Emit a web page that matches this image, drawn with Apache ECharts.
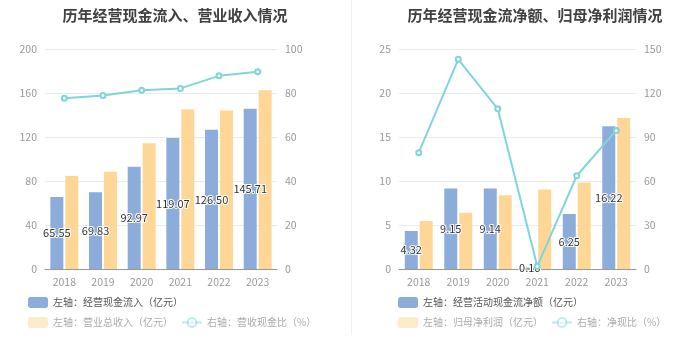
<!DOCTYPE html>
<html><head><meta charset="utf-8">
<script src="https://cdn.jsdelivr.net/npm/echarts@6/dist/echarts.min.js"></script>
<style>html,body{margin:0;padding:0;background:#fff}#c{width:700px;height:360px}</style>
</head><body><div id="c"></div>
<script>
const years = ['2018','2019','2020','2021','2022','2023'];
// Chart 1
const cashInflow = [65.55, 69.83, 92.97, 119.07, 126.50, 145.71];
const revenue = [84.5, 88.5, 114.3, 145.0, 144.0, 162.5];
const cashRevRatio = [77.6, 78.9, 81.3, 82.1, 87.8, 89.7];
// Chart 2
const netCashFlow = [4.32, 9.15, 9.14, 0.16, 6.25, 16.22];
const netProfit = [5.45, 6.4, 8.37, 9.02, 9.82, 17.16];
const netCashRatio = [79.3, 143.0, 109.2, 1.8, 63.6, 94.5];

const title1 = '历年经营现金流入、营业收入情况';
const title2 = '历年经营现金流净额、归母净利润情况';
const names1 = ['左轴：经营现金流入（亿元）','左轴：营业总收入（亿元）','右轴：营收现金比（%）'];
const names2 = ['左轴：经营活动现金流净额（亿元）','左轴：归母净利润（亿元）','右轴：净现比（%）'];

const BLUE = '#8cacda', ORANGE = '#fed797', TEAL = '#7fd5d9';
const FONT = '"Noto Sans CJK SC", "Noto Sans", sans-serif';
const tickLabel = {color:'#999', fontSize:10.5, fontFamily:FONT};

function yAx(gi, min, max, interval, pos){
  return {type:'value', gridIndex:gi, min:min, max:max, interval:interval, position:pos,
    axisLine:{show:false}, axisTick:{show:false},
    axisLabel:Object.assign({margin:8}, tickLabel),
    splitLine:{show:pos==='left', lineStyle:{color:'#e8ebf2'}}};
}
function xAx(gi){
  return {type:'category', gridIndex:gi, data:years,
    axisLine:{lineStyle:{color:'#999'}},
    axisTick:{alignWithLabel:true, length:4, lineStyle:{color:'#999'}},
    axisLabel:Object.assign({margin:8}, tickLabel)};
}
const barLabel = {show:true, position:'inside', color:'#333', fontSize:11, fontFamily:FONT,
  textBorderColor:'#fff', textBorderWidth:2, formatter:p => Number(p.value).toFixed(2)};
function legendPair(left, names){
  const common = {itemWidth:20, itemHeight:11, itemGap:8, padding:0,
    textStyle:{fontSize:10, fontFamily:FONT, color:'#555'}};
  return [
    Object.assign({}, common, {left:left, top:297, data:[{name:names[0], icon:'roundRect'}]}),
    Object.assign({}, common, {left:left, top:317, data:[
      {name:names[1], icon:'roundRect', itemStyle:{opacity:0.5}, textStyle:{color:'#aaa'}},
      {name:names[2], itemStyle:{opacity:0.5}, lineStyle:{opacity:0.5}, textStyle:{color:'#aaa'}}]})
  ];
}

const option = {
  animation:false,
  title:[
    {text:title1, left:170, top:3, textAlign:'center', textStyle:{fontSize:15, fontWeight:'bold', color:'#404040', fontFamily:FONT}},
    {text:title2, left:530, top:3, textAlign:'center', textStyle:{fontSize:15, fontWeight:'bold', color:'#404040', fontFamily:FONT}}
  ],
  legend: legendPair(28, names1).concat(legendPair(398, names2)),
  grid:[
    {left:45, top:49, width:232, height:220},
    {left:399, top:49, width:237, height:220}
  ],
  xAxis:[xAx(0), xAx(1)],
  yAxis:[yAx(0,0,200,40,'left'), yAx(0,0,100,20,'right'), yAx(1,0,25,5,'left'), yAx(1,0,150,30,'right')],
  graphic:[{type:'line', shape:{x1:351.5,y1:0,x2:351.5,y2:335}, style:{stroke:'#f0f0f0', lineWidth:1}}],
  series:[
    {name:names1[0], type:'bar', xAxisIndex:0, yAxisIndex:0, data:cashInflow, barWidth:13, barGap:'15%', itemStyle:{color:BLUE}, label:barLabel, z:3},
    {name:names1[1], type:'bar', xAxisIndex:0, yAxisIndex:0, data:revenue, barWidth:13, barGap:'15%', itemStyle:{color:ORANGE}},
    {name:names1[2], type:'line', xAxisIndex:0, yAxisIndex:1, data:cashRevRatio, symbol:'emptyCircle', symbolSize:5, itemStyle:{color:TEAL}, lineStyle:{color:TEAL, width:2}},
    {name:names2[0], type:'bar', xAxisIndex:1, yAxisIndex:2, data:netCashFlow, barWidth:13, barGap:'15%', itemStyle:{color:BLUE}, label:barLabel, z:3},
    {name:names2[1], type:'bar', xAxisIndex:1, yAxisIndex:2, data:netProfit, barWidth:13, barGap:'15%', itemStyle:{color:ORANGE}},
    {name:names2[2], type:'line', xAxisIndex:1, yAxisIndex:3, data:netCashRatio, symbol:'emptyCircle', symbolSize:5, itemStyle:{color:TEAL}, lineStyle:{color:TEAL, width:2}}
  ]
};
const chart = echarts.init(document.getElementById('c'), null, {renderer:'canvas'});
chart.setOption(option);
</script></body></html>
